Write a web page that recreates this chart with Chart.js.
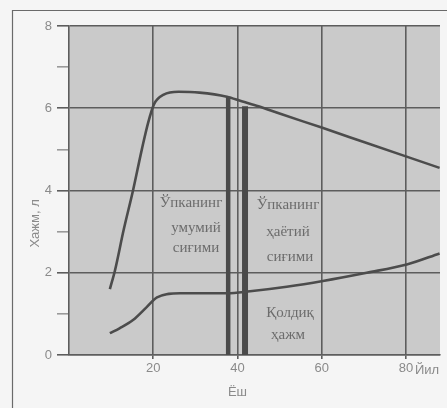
<!DOCTYPE html>
<html lang="uz">
  <head>
    <meta charset="UTF-8" />
    <title>Ўпка ҳажмлари</title>
    <script src="https://cdn.jsdelivr.net/npm/chart.js@4.4.1/dist/chart.umd.min.js"></script>
    <style>
      html, body { margin: 0; padding: 0; background: #f5f5f5; }
      #wrap { width: 447px; height: 408px; }
    </style>
  </head>
  <body>
    <div id="wrap"><canvas id="chart" width="447" height="408"></canvas></div>
    <script>
      // ёш (йил) ва ҳажм (л)
      var umumiyYosh  = [9.7, 10.9, 13, 15.2, 17.3, 18.8, 20.2, 22.5, 26, 31, 37.5, 41, 45, 50, 60, 70, 80, 88];
      var umumiyHajm  = [1.6, 2.05, 3.05, 4.0, 5.0, 5.65, 6.1, 6.33, 6.4, 6.38, 6.28, 6.17, 6.05, 5.87, 5.53, 5.18, 4.83, 4.55];
      var qoldiqYosh  = [9.7, 12, 15.2, 18.5, 20.9, 26.4, 32, 37.5, 43, 51.7, 60.3, 70.7, 80.2, 88];
      var qoldiqHajm  = [0.53, 0.65, 0.85, 1.17, 1.4, 1.5, 1.5, 1.5, 1.55, 1.66, 1.8, 2.0, 2.2, 2.47];
      // устунлар: умумий сиғим (38 ёш) ва ҳаётий сиғим (42 ёш)
      var ustunYosh   = [37.8, 41.8];
      var ustunTepa   = [6.28, 6.05];
      var yTicks      = [0, 2, 4, 6, 8];
      var xTicks      = [20, 40, 60, 80];

      function pts(xs, ys) {
        return xs.map(function (x, i) { return { x: x, y: ys[i] }; });
      }

      var chizma = '#4c4c4c';
      var tur = '#5d5d5d';

      // фон, рамка ва ёзувлар
      var bezak = {
        id: 'bezak',
        beforeDraw: function (c) {
          var ctx = c.ctx, a = c.chartArea;
          ctx.save();
          ctx.fillStyle = '#f5f5f5';
          ctx.fillRect(0, 0, c.width, c.height);
          ctx.fillStyle = '#cacaca';
          ctx.fillRect(a.left, a.top, a.right - a.left, a.bottom - a.top);
          ctx.strokeStyle = '#6a6a6a';
          ctx.lineWidth = 1.2;
          ctx.beginPath();
          ctx.moveTo(12.5, 408);
          ctx.lineTo(12.5, 10.5);
          ctx.lineTo(447, 10.5);
          ctx.stroke();
          ctx.restore();
        },
        afterDraw: function (c) {
          var ctx = c.ctx, xs = c.scales.x, ys = c.scales.y;
          ctx.save();
          ctx.fillStyle = '#6c6c6c';
          ctx.font = '15px "Liberation Serif"';
          ctx.textAlign = 'center';
          ctx.textBaseline = 'middle';
          [['Ўпканинг', 191, 203], ['умумий', 196, 228], ['сиғими', 196, 248],
           ['Ўпканинг', 288, 205], ['ҳаётий', 288, 232], ['сиғими', 290, 257],
           ['Қолдиқ', 290, 313], ['ҳажм', 288, 335]].forEach(function (t) {
            ctx.fillText(t[0], t[1], t[2]);
          });
          ctx.fillStyle = '#8a8a8a';
          ctx.font = '13px "Liberation Sans"';
          ctx.textAlign = 'left';
          ctx.fillText('Йил', xs.getPixelForValue(80) + 9, 370);
          ctx.textAlign = 'center';
          ctx.fillText('Ёш', xs.getPixelForValue(40), 392);
          ctx.translate(35, ys.getPixelForValue(3.2));
          ctx.rotate(-Math.PI / 2);
          ctx.fillText('Хажм, л', 0, 0);
          ctx.restore();
        }
      };

      new Chart(document.getElementById('chart'), {
        type: 'line',
        data: {
          datasets: [
            { data: pts(umumiyYosh, umumiyHajm), borderColor: chizma, borderWidth: 2.6, cubicInterpolationMode: 'monotone', pointRadius: 0 },
            { data: pts(qoldiqYosh, qoldiqHajm), borderColor: chizma, borderWidth: 2.6, cubicInterpolationMode: 'monotone', pointRadius: 0 },
            { data: [{ x: ustunYosh[0], y: 0 }, { x: ustunYosh[0], y: ustunTepa[0] }], borderColor: '#4a4a4a', borderWidth: 4.5, pointRadius: 0 },
            { data: [{ x: ustunYosh[1], y: 0 }, { x: ustunYosh[1], y: ustunTepa[1] }], borderColor: '#4a4a4a', borderWidth: 6, pointRadius: 0 },
            { data: [{ x: ustunYosh[1], y: 0.1 }, { x: ustunYosh[1], y: ustunTepa[1] - 0.1 }], borderColor: '#a9a9a9', borderWidth: 1.6, pointRadius: 0 }
          ]
        },
        options: {
          responsive: false,
          animation: false,
          events: [],
          plugins: { legend: { display: false }, tooltip: { enabled: false } },
          layout: { padding: { top: 26, right: 7, bottom: 33, left: 0 } },
          scales: {
            x: {
              type: 'linear', min: 0, max: 88.1,
              afterFit: function (s) { s.height = 20; },
              afterBuildTicks: function (s) { s.ticks = xTicks.map(function (v) { return { value: v }; }); },
              grid: { color: tur, lineWidth: 1.6, tickLength: 4, drawTicks: true },
              border: { color: tur, width: 1.6 },
              ticks: { color: '#8a8a8a', padding: 2, font: { family: 'Liberation Sans', size: 13 } }
            },
            y: {
              min: 0, max: 8,
              afterFit: function (s) { s.width = 69; },
              afterBuildTicks: function (s) {
                s.ticks = [0, 1, 2, 3, 4, 5, 6, 7, 8].map(function (v) { return { value: v }; });
              },
              grid: {
                color: function (c) { return c.tick && c.tick.value % 2 ? 'rgba(0,0,0,0)' : tur; },
                tickColor: function (c) { return c.tick && c.tick.value % 2 ? '#9a9a9a' : tur; },
                lineWidth: 1.6, tickLength: 12
              },
              border: { color: tur, width: 1.6 },
              ticks: {
                color: '#8a8a8a', padding: 5, font: { family: 'Liberation Sans', size: 13 },
                callback: function (v) { return yTicks.indexOf(v) >= 0 ? v : ''; }
              }
            }
          }
        },
        plugins: [bezak]
      });
    </script>
  </body>
</html>
